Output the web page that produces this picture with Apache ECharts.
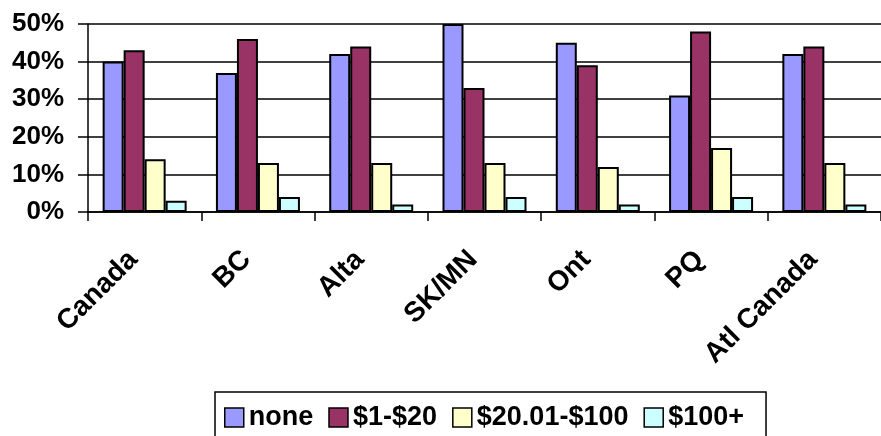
<!DOCTYPE html>
<html>
<head>
<meta charset="utf-8">
<script src="https://cdn.jsdelivr.net/npm/echarts@6/dist/echarts.min.js"></script>
<style>
  html, body { margin: 0; padding: 0; background: #fff; }
  #chart { width: 881px; height: 436px; }
</style>
</head>
<body>
<div id="chart"></div>
<script>
// Share of respondents by spending bracket, per region (percent)
const regions = ['Canada', 'BC', 'Alta', 'SK/MN', 'Ont', 'PQ', 'Atl Canada'];
const seriesNames = ['none', '$1-$20', '$20.01-$100', '$100+'];
const noneVals    = [40, 37, 42, 50, 45, 31, 42];
const lowVals     = [43, 46, 44, 33, 39, 48, 44];
const midVals     = [14, 13, 13, 13, 12, 17, 13];
const highVals    = [3, 4, 2, 4, 2, 4, 2];
const yTicks = { min: 0, max: 50, step: 10 };

const colors = ['#9999FF', '#993366', '#FFFFCC', '#CCFFFF'];
const values = [noneVals, lowVals, midVals, highVals];

const FONT = '"Liberation Sans", Arial, sans-serif';

const chart = echarts.init(document.getElementById('chart'), null, { renderer: 'canvas' });

chart.setOption({
  animation: false,
  backgroundColor: '#ffffff',
  grid: { left: 88, top: 24, right: -12, bottom: 224, containLabel: false },
  legend: {
    data: seriesNames,
    left: 215,
    top: 392,
    orient: 'horizontal',
    itemWidth: 19,
    itemHeight: 19,
    itemGap: 15,
    padding: [12, 22, 40, 9],
    borderColor: '#000',
    borderWidth: 1.5,
    icon: 'rect',
    itemStyle: { borderColor: '#000', borderWidth: 1.5 },
    textStyle: { fontFamily: FONT, fontWeight: 'bold', fontSize: 27, lineHeight: 21, color: '#000' }
  },
  xAxis: {
    type: 'category',
    data: regions,
    boundaryGap: true,
    axisLine: { show: true, lineStyle: { color: '#000', width: 1.5 } },
    axisTick: { show: true, length: 9, lineStyle: { color: '#000', width: 1.5 } },
    axisLabel: {
      rotate: 45,
      margin: 32,
      interval: 0,
      padding: [0, 16, 0, 0],
      fontFamily: FONT,
      fontWeight: 'bold',
      fontSize: 28,
      color: '#000'
    },
    splitLine: { show: false }
  },
  yAxis: {
    type: 'value',
    min: yTicks.min,
    max: yTicks.max,
    interval: yTicks.step,
    axisLine: { show: true, lineStyle: { color: '#000', width: 1.5 } },
    axisTick: { show: true, length: 10, lineStyle: { color: '#000', width: 1.5 } },
    axisLabel: {
      formatter: '{value}%',
      margin: 24,
      fontFamily: FONT,
      fontWeight: 'bold',
      fontSize: 26,
      color: '#000'
    },
    splitLine: { show: true, lineStyle: { color: '#000', width: 1.6 } }
  },
  series: seriesNames.map((name, i) => ({
    name: name,
    type: 'bar',
    data: values[i],
    barWidth: 21,
    barGap: '0%',
    itemStyle: { color: colors[i], borderColor: '#000', borderWidth: 2 }
  }))
});
</script>
</body>
</html>
